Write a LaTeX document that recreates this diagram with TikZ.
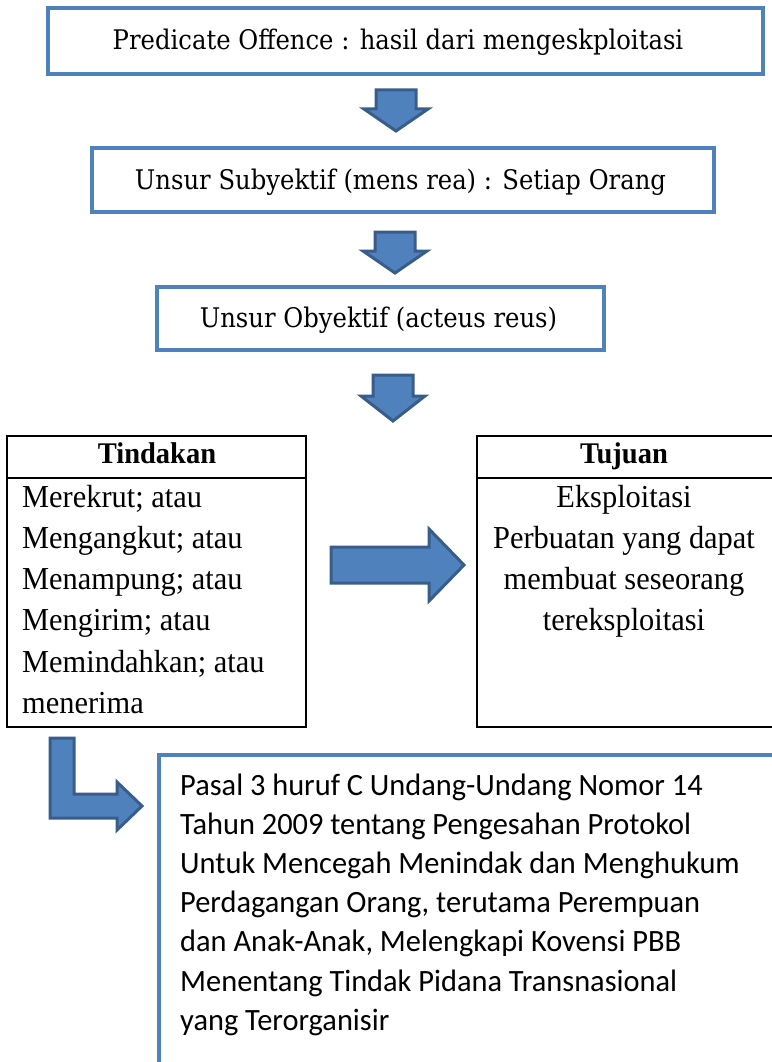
\documentclass[tikz,border=0pt]{standalone}
\usepackage{fontspec}
\setmainfont{Liberation Serif}
\newfontfamily\cambfont[FakeStretch=0.9]{DejaVu Serif}
\newfontfamily\garfont[FakeStretch=0.95]{Liberation Serif}
\newfontfamily\calfont[FakeStretch=0.98]{Carlito}
\definecolor{boxblue}{HTML}{4F81BD}
\definecolor{arrfill}{HTML}{4F81BD}
\definecolor{arrdraw}{HTML}{385D8A}
\begin{document}
\begin{tikzpicture}[x=1pt,y=-1pt,
  bluebox/.style={draw=boxblue,line width=4pt,fill=white},
  blackbox/.style={draw=black,line width=2.5pt},
  arr/.style={fill=arrfill,draw=arrdraw,line width=3pt,line join=miter},
  toptext/.style={font=\cambfont\fontsize{27}{30}\selectfont,anchor=base,inner sep=0pt},
  gartext/.style={font=\garfont\fontsize{32}{36}\selectfont,inner sep=0pt},
  hdtext/.style={font=\garfont\bfseries\fontsize{30}{34}\selectfont,anchor=base,inner sep=0pt},
  caltext/.style={font=\calfont\fontsize{31}{36}\selectfont,anchor=base west,inner sep=0pt}]
\useasboundingbox (0,0) rectangle (771,1062);
% top boxes
\draw[bluebox] (48,8) rectangle (763,74);
\node[toptext] (t1) at (398,50) {Predicate Offence : hasil dari mengeskploitasi};
\draw[bluebox] (92,148) rectangle (714,212);
\node[toptext] (t2) at (400.5,189) {Unsur Subyektif (mens rea) : Setiap Orang};
\draw[bluebox] (157,287) rectangle (604,350);
\node[toptext] (t3) at (378.5,327) {Unsur Obyektif (acteus reus)};
% down arrows
\draw[arr] (376,90) -- (416,90) -- (416,109) -- (428,109) -- (396,131) -- (364,109) -- (376,109) -- cycle;
\draw[arr] (375,232) -- (415,232) -- (415,251) -- (427,251) -- (395,273) -- (363,251) -- (375,251) -- cycle;
\draw[arr] (373,375) -- (413,375) -- (413,396) -- (425,396) -- (393,421) -- (361,396) -- (373,396) -- cycle;
% Tindakan
\draw[blackbox] (7,436) rectangle (306,727);
\draw[blackbox] (7,478) -- (306,478);
\node[hdtext] (h1) at (157,463) {Tindakan};
\foreach \t [count=\i] in {Merekrut; atau,Mengangkut; atau,Menampung; atau,Mengirim; atau,Memindahkan; atau,menerima}
  \node[gartext,anchor=base west] (l1-\i) at (22,{507+41.3*(\i-1)}) {\t};
% Tujuan
\draw[blackbox] (477,436) rectangle (775,727);
\draw[blackbox] (477,478) -- (775,478);
\node[hdtext] (h2) at (624,463) {Tujuan};
\foreach \t [count=\i] in {Eksploitasi,Perbuatan yang dapat,membuat seseorang,tereksploitasi}
  \node[gartext,anchor=base] (l2-\i) at (624,{507+41.3*(\i-1)}) {\t};
% right arrow
\draw[arr] (331,547) -- (429,547) -- (429,529) -- (464,565) -- (429,601) -- (429,583) -- (331,583) -- cycle;
% bottom box
\draw[bluebox] (159,1070) -- (159,755) -- (775,755);
\foreach \t [count=\i] in {Pasal 3 huruf C Undang-Undang Nomor 14,Tahun 2009 tentang Pengesahan Protokol,Untuk Mencegah Menindak dan Menghukum,{Perdagangan Orang, terutama Perempuan},{dan Anak-Anak, Melengkapi Kovensi PBB},Menentang Tindak Pidana Transnasional,yang Terorganisir}
  \node[caltext] (l3-\i) at (180,{795+39.2*(\i-1)}) {\t};
% L arrow
\draw[arr] (50,738) -- (74,738) -- (74,794) -- (117,794) -- (117,782) -- (142,806) -- (117,830) -- (117,818) -- (50,818) -- cycle;
\end{tikzpicture}
\end{document}
